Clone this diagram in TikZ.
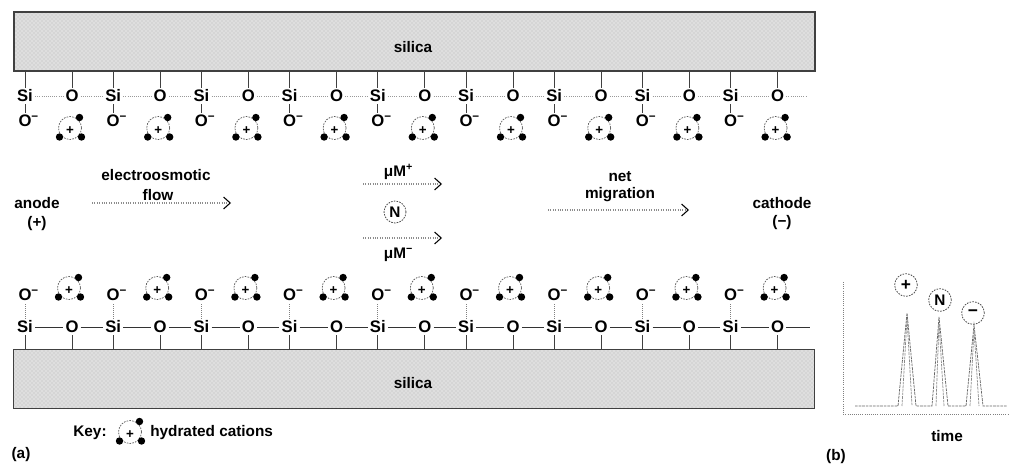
\documentclass[tikz,border=0pt]{standalone}
\usepackage{fontspec}
\setmainfont{Liberation Sans}
\usetikzlibrary{arrows.meta,patterns}

\tikzset{
  % hydrated cation: dashed water shell, central charge, three water molecules
  cation/.pic={
    \coordinate (-c) at (0,0);
    \draw[black!65, line width=0.55pt, dash pattern=on 1.2pt off 0.9pt] (0,0) circle[radius=11.5];
    \node[inner sep=0pt, font=\fontsize{10}{10}\selectfont\bfseries] (-p) at (0,3) {+};
    \fill (9.5,-10.5) circle[radius=3.7];
    \fill (-10.5,9) circle[radius=3.7];
    \fill (11.5,9) circle[radius=3.7];
  },
  silicabox/.style={draw=black!75, line width=0.8pt, preaction={fill=black!13},
    pattern=crosshatch dots, pattern color=black!28,
    minimum width=600.75pt, minimum height=44.25pt, inner sep=0pt},
  atom/.style={inner sep=1.5pt, font=\fontsize{12.5}{13}\selectfont\bfseries},
  bond/.style={black!75, line width=0.5pt},
  linkT/.style={black!40, line width=0.6pt, densely dotted},
  linkB/.style={black!80, line width=0.5pt},
  flowarrow/.style={black!45, line width=0.8pt, densely dotted,
    -{Straight Barb[black, length=5pt, width=9pt, line width=0.8pt]}},
  chargemark/.style={circle, draw=black!70, line width=0.6pt, dash pattern=on 1.2pt off 0.9pt,
    minimum size=16.5pt, inner sep=0pt},
  trace/.style={black!60, line width=0.55pt, dash pattern=on 2pt off 0.7pt},
  axisline/.style={black!50, line width=0.6pt, densely dotted}
}

\begin{document}
\begin{tikzpicture}[x=0.75pt, y=-0.75pt,
  font=\fontsize{11.5}{13}\selectfont\bfseries,
  every node/.style={inner sep=0pt}]
\useasboundingbox (0,0) rectangle (1009,471);

% ---------- capillary walls ----------
\node[silicabox] (boxT) at (414.5,41.5) {};
\node (silT) at (413,47) {silica};
\node[silicabox] (boxB) at (414,379) {};
\node (silB) at (413,383) {silica};

% ---------- upper wall: Si-O chain, ionised silanols, hydrated cations ----------
\foreach \k in {0,...,8} {
  \pgfmathsetmacro\xs{25+88.2*\k}
  \pgfmathsetmacro\xo{72+88.2*\k}
  \node[atom] (tSi\k) at (\xs,96) {Si};
  \node[atom] (tO\k) at (\xo,96) {O};
  \node[atom] (tOm\k) at (\xs,121) {O\rlap{\textsuperscript{−}}};
  \pic (tc\k) at (\xo-2,128) {cation};
  \draw[bond] (tSi\k.north) -- (tSi\k.north |- boxT.south);
  \draw[bond] (tO\k.north) -- (tO\k.north |- boxT.south);
  \draw[bond] (tSi\k) -- (tOm\k);
  \draw[linkT] (tSi\k) -- (tO\k);
}
\foreach \k [evaluate=\k as \kn using int(\k+1)] in {0,...,7}
  \draw[linkT] (tO\k) -- (tSi\kn);
\coordinate (endT) at (807,96);
\draw[linkT] (tO8) -- (endT);

% ---------- lower wall ----------
\foreach \k in {0,...,8} {
  \pgfmathsetmacro\xs{25+88.2*\k}
  \pgfmathsetmacro\xo{72+88.2*\k}
  \node[atom] (bSi\k) at (\xs,327) {Si};
  \node[atom] (bO\k) at (\xo,327) {O};
  \node[atom] (bOm\k) at (\xs,295) {O\rlap{\textsuperscript{−}}};
  \pic (bc\k) at (\xo-3,288) {cation};
  \draw[bond] (bSi\k.south) -- (bSi\k.south |- boxB.north);
  \draw[bond] (bO\k.south) -- (bO\k.south |- boxB.north);
  \draw[bond, black!50, densely dotted] (bSi\k) -- (bOm\k);
  \draw[linkB] (bSi\k) -- (bO\k);
}
\foreach \k [evaluate=\k as \kn using int(\k+1)] in {0,...,7}
  \draw[linkB] (bO\k) -- (bSi\kn);
\coordinate (endB) at (810,327);
\draw[linkB] (bO8) -- (endB);

% ---------- electrodes and flows ----------
\node (anode) at (37,203) {anode};
\node (anodeS) at (37,224) {(+)};
\node (eo1) at (156,175) {electroosmotic};
\node (eo2) at (158,195) {flow};
\coordinate (eoS) at (92,203);
\coordinate (eoE) at (231,203);
\draw[flowarrow] (eoS) -- (eoE);

\node (mup) at (395,172) {μM\rlap{\textsuperscript{+}}};
\coordinate (mupS) at (363,184);
\coordinate (mupE) at (442,184);
\draw[flowarrow] (mupS) -- (mupE);
\node[chargemark] (neut) at (395,212) {N};
\coordinate (mumS) at (363,238);
\coordinate (mumE) at (442,238);
\draw[flowarrow] (mumS) -- (mumE);
\node (mum) at (395,255) {μM\rlap{\textsuperscript{−}}};

\node (net1) at (620,177) {net};
\node (net2) at (620,195) {migration};
\coordinate (nmS) at (548,210);
\coordinate (nmE) at (689,210);
\draw[flowarrow] (nmS) -- (nmE);

\node (cathode) at (782,203) {cathode};
\node (cathodeS) at (782,223) {(−)};

% ---------- key ----------
\node (key) at (90,433) {Key:};
\pic (keyc) at (130,432) {cation};
\node[anchor=west] (keytxt) at (150,433) {hydrated cations};
\node (lblA) at (21,455) {(a)};

% ---------- electropherogram ----------
\coordinate (axT) at (843,282);
\coordinate (axO) at (843,414);
\coordinate (axR) at (1008,414);
\draw[axisline] (axT) -- (axO) -- (axR);

\draw[trace] (855,406) -- (898,406) -- (907,313) -- (916,406) -- (932,406)
  -- (939,317) -- (948,406) -- (966,406) -- (974,325) -- (983,406) -- (1007,406);
\draw[trace, black!45] (902,406) -- (907,318) -- (912,406);
\draw[trace, black!45] (936,406) -- (939,322) -- (944,406);
\draw[trace, black!45] (970,406) -- (974,330) -- (979,406);

\node[chargemark, minimum size=17pt, font=\fontsize{13}{13}\selectfont\bfseries] (pkP) at (906,285) {+};
\node[chargemark, minimum size=17pt] (pkN) at (940,300) {N};
\node[chargemark, minimum size=17pt, font=\fontsize{13}{13}\selectfont\bfseries] (pkM) at (973,313) {−};

\node (time) at (947,436) {time};
\node (lblB) at (836,457) {(b)};
\end{tikzpicture}
\end{document}
